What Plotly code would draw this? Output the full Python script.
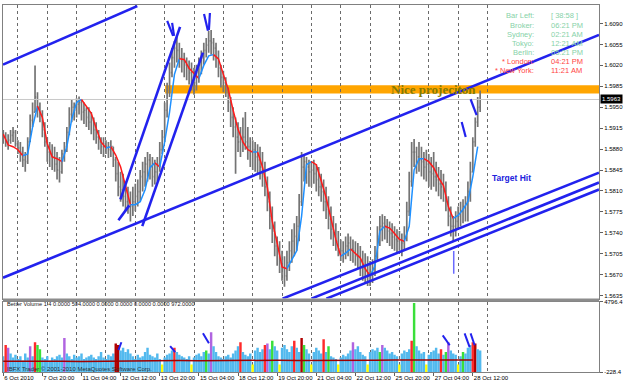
import plotly.graph_objects as go

# ---------------- data ----------------
PRICE_BASE = 1.5600
PIP = 0.0001
FIRST_BAR = -12          # hourly index of first bar; 7 Oct 00:00 = 0
BAR_HOURS = 2
FIRST_OPEN_PIPS = 305

HIGH_PIPS = [
    312, 308, 305, 312, 317, 312, 295, 292, 284, 275,
    300, 338, 358, 420, 375, 358, 345, 325, 300, 292,
    288, 284, 275, 267, 279, 292, 317, 350, 362, 358,
    365, 368, 362, 358, 350, 350, 342, 333, 325, 312,
    300, 300, 295, 292, 295, 284, 267, 259, 242, 239,
    226, 217, 209, 217, 222, 229, 245, 259, 267, 275,
    272, 267, 262, 267, 292, 312, 358, 391, 425, 449,
    461, 469, 458, 449, 441, 433, 428, 425, 416, 421,
    433, 445, 458, 466, 478, 479, 466, 458, 445, 421,
    411, 400, 383, 367, 350, 333, 325, 317, 333, 342,
    317, 300, 295, 292, 288, 284, 275, 259, 234, 209,
    184, 159, 134, 126, 110, 101, 110, 126, 146, 156,
    168, 205, 275, 272, 267, 262, 259, 262, 255, 250,
    239, 229, 217, 201, 184, 168, 156, 143, 129, 126,
    134, 139, 134, 129, 126, 123, 118, 110, 106, 101,
    93, 96, 118, 151, 168, 171, 168, 163, 159, 156,
    151, 146, 143, 139, 151, 192, 242, 292, 297, 284,
    292, 284, 275, 279, 272, 267, 275, 259, 250, 245,
    239, 226, 201, 184, 168, 176, 184, 192, 196, 201,
    226, 259, 300, 333, 367, 378,
]
LOW_PIPS = [
    289, 284, 279, 289, 292, 284, 272, 259, 250, 242,
    255, 292, 317, 342, 333, 325, 300, 284, 259, 250,
    245, 242, 229, 224, 239, 259, 275, 303, 325, 328,
    333, 338, 328, 322, 317, 312, 305, 295, 289, 279,
    272, 267, 272, 265, 267, 250, 226, 201, 192, 184,
    176, 172, 159, 168, 176, 184, 192, 209, 217, 226,
    229, 217, 221, 226, 242, 272, 292, 333, 367, 400,
    416, 425, 416, 408, 400, 395, 388, 378, 371, 378,
    391, 405, 421, 433, 441, 438, 428, 416, 400, 383,
    375, 367, 342, 317, 300, 239, 275, 267, 275, 279,
    262, 250, 245, 242, 239, 229, 217, 201, 176, 146,
    123, 101, 85, 73, 60, 50, 60, 76, 90, 101,
    110, 126, 185, 226, 222, 217, 217, 222, 209, 201,
    192, 176, 163, 146, 129, 118, 110, 101, 93, 90,
    96, 101, 93, 90, 85, 80, 68, 60, 55, 51,
    51, 56, 68, 93, 118, 126, 129, 123, 118, 113,
    110, 106, 110, 101, 110, 126, 168, 217, 250, 239,
    242, 234, 229, 226, 217, 212, 217, 209, 201, 196,
    192, 176, 151, 134, 126, 134, 146, 151, 156, 159,
    159, 192, 242, 284, 317, 342,
]
CLOSE_PIPS = [
    300, 292, 295, 303, 308, 289, 282, 275, 262, 259,
    292, 328, 342, 367, 350, 338, 312, 292, 275, 272,
    267, 255, 245, 242, 272, 284, 308, 338, 350, 345,
    355, 358, 342, 345, 333, 325, 328, 312, 300, 292,
    284, 289, 284, 279, 284, 262, 239, 217, 212, 201,
    192, 184, 184, 192, 201, 209, 234, 242, 255, 262,
    250, 234, 242, 255, 279, 300, 345, 378, 408, 433,
    449, 445, 433, 428, 421, 416, 408, 400, 391, 408,
    421, 433, 445, 454, 461, 458, 449, 433, 416, 400,
    391, 378, 358, 333, 317, 300, 292, 292, 300, 292,
    284, 275, 279, 267, 262, 250, 234, 217, 192, 168,
    143, 118, 110, 90, 80, 68, 90, 110, 126, 134,
    151, 192, 250, 259, 250, 242, 245, 239, 229, 217,
    209, 192, 179, 163, 146, 134, 126, 113, 110, 106,
    118, 123, 113, 110, 101, 101, 90, 80, 76, 73,
    68, 80, 101, 134, 151, 156, 151, 143, 139, 133,
    129, 126, 129, 123, 134, 176, 226, 275, 275, 267,
    262, 259, 250, 255, 242, 239, 234, 229, 222, 217,
    209, 192, 168, 151, 151, 159, 168, 176, 184, 192,
    209, 242, 292, 325, 350, 363,
]

MA_HOURS = 4
MA_PIPS = [
    305, 287, 284, 279, 269, 272, 317, 352, 333, 289,
    267, 264, 259, 284, 330, 358, 363, 352, 340, 315,
    292, 282, 284, 270, 250, 216, 187, 187, 192, 212,
    249, 257, 250, 292, 342, 405, 431, 430, 415, 406,
    398, 420, 436, 438, 431, 405, 380, 345, 313, 292,
    279, 275, 275, 250, 216, 159, 123, 83, 80, 95,
    110, 168, 254, 259, 254, 227, 199, 164, 129, 101,
    106, 113, 106, 98, 80, 68, 85, 143, 151, 148,
    139, 129, 126, 151, 245, 264, 264, 259, 249, 232,
    219, 184, 164, 169, 179, 192, 234, 284,
]

VOLUME = [
    900, 1700, 1500, 1100, 800, 1000, 700, 900, 600, 1100, 800,
    1600, 900, 1900, 1700, 1400, 800, 700, 900, 600, 800,
    700, 900, 1000, 800, 2200, 1100, 900, 700, 1000, 800,
    900, 1100, 700, 800, 900, 1000, 800, 700, 900, 1200,
    800, 700, 1000, 900, 1100, 1800, 1700, 1300, 1500, 1200,
    1400, 1100, 900, 700, 1000, 800, 900, 1200, 1500, 1000,
    900, 800, 1100, 700, 300, 800, 1000, 1100, 1300, 1500,
    1200, 1000, 900, 800, 700, 900, 300, 800, 1000, 1100,
    900, 1200, 1300, 1100, 2600, 1600, 1200, 900, 800, 700,
    900, 1000, 800, 1100, 1300, 1600, 1900, 1200, 1000, 900,
    1100, 300, 1300, 1500, 1200, 1400, 1700, 1800, 1400, 2000,
    1600, 1300, 300, 1500, 1700, 1400, 1200, 1600, 2000, 1500,
    1200, 2200, 1700, 1400, 1100, 300, 1200, 1500, 1300, 1100,
    2100, 1200, 1600, 900, 800, 700, 300, 800, 1000, 900,
    1100, 1300, 1900, 1400, 1600, 1200, 1000, 900, 300, 1200,
    1400, 1300, 1500, 1200, 1700, 1500, 1300, 1100, 1200, 1000,
    900, 300, 1100, 1300, 1200, 1400, 2000, 4700, 1600, 1300,
    1100, 1200, 300, 1000, 1200, 1300, 1500, 1100, 1400, 1000,
    1200, 1900, 1300, 1100, 1000, 300, 900, 1200, 1100, 1500,
    1700, 1900, 1800, 1400, 1300,
]
VOLUME_BAR_KIND = {
    1: "red", 2: "purple", 11: "purple", 13: "red", 14: "green", 15: "green",
    25: "purple", 46: "darkred", 47: "darkred", 65: "yellow", 70: "red",
    77: "yellow", 83: "green", 85: "purple", 97: "red", 102: "yellow",
    107: "red", 108: "purple", 110: "green", 113: "yellow", 119: "red",
    122: "darkred", 123: "green", 126: "yellow", 131: "red", 133: "green",
    137: "yellow", 143: "purple", 149: "yellow", 154: "green", 155: "purple",
    162: "yellow", 167: "red", 168: "green", 173: "yellow", 179: "red",
    181: "green", 182: "purple", 186: "yellow", 188: "green", 192: "red",
    193: "darkred",
}
VOL_MA_HOURS = 16
VOLUME_MA = [540, 550, 560, 540, 520, 540, 560, 580, 600, 590, 580, 600, 620,
             640, 610, 600, 590, 580, 600, 610, 620, 610, 600, 620, 630]

X_TICK_HOURS = [-12, 20, 52, 84, 116, 148, 180, 212, 244, 276, 308, 340, 372]
X_TICK_TEXT = ["6 Oct 2010", "7 Oct 20:00", "11 Oct 04:00", "12 Oct 12:00",
               "13 Oct 20:00", "15 Oct 04:00", "18 Oct 12:00", "19 Oct 20:00",
               "21 Oct 04:00", "22 Oct 12:00", "25 Oct 20:00", "27 Oct 04:00",
               "28 Oct 12:00"]
DAY_STARTS = [0, 24, 48, 72, 96, 120, 144, 168, 192, 216, 240, 264, 288, 312,
              336, 360, 384]
PRICE_TICKS = [1.5635, 1.5670, 1.5705, 1.5740, 1.5775, 1.5810, 1.5845, 1.5880,
               1.5915, 1.5950, 1.5985, 1.6020, 1.6055, 1.6090]
X_RANGE = [-12.2, 475.2]
PRICE_RANGE = [1.5630, 1.6121]
VOL_RANGE = [-228.4, 4796.4]

# drawn trend lines: (hour0, price0, hour1, price1)
TRENDLINES = [
    (-12.2, 1.60214, 97.6, 1.61192),
    (83.8, 1.57959, 132.6, 1.60844),
    (101.7, 1.57511, 151.3, 1.60413),
    (82.2, 1.57610, 91.1, 1.57859),
    (-12.2, 1.56649, 475.2, 1.60711),
    (216.4, 1.56300, 475.2, 1.58406),
    (240.0, 1.56300, 475.2, 1.58241),
    (252.2, 1.56300, 475.2, 1.58124),
]
PEN_MARKS = [
    (122.1, 1.60944, 126.9, 1.60695),
    (126.1, 1.60910, 127.7, 1.60695),
    (152.2, 1.61060, 155.4, 1.60778),
    (157.0, 1.61076, 156.2, 1.60794),
    (362.9, 1.59252, 366.2, 1.59003),
    (370.2, 1.59634, 375.1, 1.59368),
]
THIN_MARK = (356.4, 1.57096, 356.4, 1.56715)
VOLUME_MARKS = [
    (82.2, 1329, 84.6, 1895),
    (124.5, 1612, 128.6, 1187),
    (151.3, 2532, 156.2, 1824),
    (347.4, 2390, 353.1, 1682),
    (365.3, 2532, 369.4, 1541),
    (370.2, 2532, 373.5, 1682),
]
BAND = (120.4, 1.5973, 1.5987)   # start hour, low, high
INFO_ROWS = [
    ("Bar Left:", "[ 38:58 ]", "info"),
    ("Broker:", "06:21 PM", "info"),
    ("Sydney:", "02:21 AM", "info"),
    ("Tokyo:", "12:21 AM", "info"),
    ("Berlin:", "05:21 PM", "info"),
    ("* London:", "04:21 PM", "alert"),
    ("* New York:", "11:21 AM", "alert"),
]

# ---------------- build ----------------
def px(p):
    return round(PRICE_BASE + p * PIP, 5)

n = len(CLOSE_PIPS)
xs = [FIRST_BAR + BAR_HOURS * k for k in range(n)]
closes = [px(p) for p in CLOSE_PIPS]
highs = [px(p) for p in HIGH_PIPS]
lows = [px(p) for p in LOW_PIPS]
opens = [px(FIRST_OPEN_PIPS)] + closes[:-1]

BLUE = "#2222EE"
FONT = "Liberation Sans"

fig = go.Figure()

fig.add_trace(go.Scatter(x=X_RANGE, y=[closes[-1]] * 2, mode="lines",
                         line=dict(color="#C8C8C8", width=1), xaxis="x", yaxis="y",
                         hoverinfo="skip"))

fig.add_trace(go.Ohlc(x=xs, open=opens, high=highs, low=lows, close=closes,
                      increasing=dict(line=dict(color="#747474", width=1.7)),
                      decreasing=dict(line=dict(color="#747474", width=1.7)),
                      tickwidth=0.4, xaxis="x", yaxis="y", hoverinfo="skip"))

# coloured moving average
ma_x = [FIRST_BAR + MA_HOURS * m for m in range(len(MA_PIPS))]
ma_y = [px(p) for p in MA_PIPS]
runs = []
for j in range(len(ma_y) - 1):
    col = "#1E90FF" if ma_y[j + 1] >= ma_y[j] else "#FF1A1A"
    if runs and runs[-1][0] == col:
        runs[-1][1].append(j + 1)
    else:
        runs.append([col, [j, j + 1]])
for col, idx in runs:
    fig.add_trace(go.Scatter(x=[ma_x[j] for j in idx], y=[ma_y[j] for j in idx],
                             mode="lines", line=dict(color=col, width=1.5),
                             xaxis="x", yaxis="y", hoverinfo="skip"))

for (x0, y0, x1, y1) in TRENDLINES:
    fig.add_trace(go.Scatter(x=[x0, x1], y=[y0, y1], mode="lines",
                             line=dict(color=BLUE, width=2.6), xaxis="x", yaxis="y",
                             hoverinfo="skip"))
for (x0, y0, x1, y1) in PEN_MARKS:
    fig.add_trace(go.Scatter(x=[x0, x1], y=[y0, y1], mode="lines",
                             line=dict(color=BLUE, width=2.2), xaxis="x", yaxis="y",
                             hoverinfo="skip"))
fig.add_trace(go.Scatter(x=[THIN_MARK[0], THIN_MARK[2]], y=[THIN_MARK[1], THIN_MARK[3]],
                         mode="lines", line=dict(color="#6A6AFF", width=1.5),
                         xaxis="x", yaxis="y", hoverinfo="skip"))

# volume panel
KIND_COLOR = {"blue": "#52B9EE", "red": "#FF2A2A", "darkred": "#B00000",
              "green": "#3ADF3A", "purple": "#B064E0", "yellow": "#FFFF00"}
vcolors = [KIND_COLOR[VOLUME_BAR_KIND.get(k, "blue")] for k in range(n)]
fig.add_trace(go.Bar(x=xs, y=[v - VOL_RANGE[0] for v in VOLUME], base=VOL_RANGE[0],
                     marker=dict(color=vcolors, line=dict(width=0)), width=2.0,
                     xaxis="x2", yaxis="y2", hoverinfo="skip"))
vma_x = [FIRST_BAR + VOL_MA_HOURS * j for j in range(len(VOLUME_MA))]
fig.add_trace(go.Scatter(x=vma_x, y=VOLUME_MA, mode="lines",
                         line=dict(color="#A00000", width=1.5), xaxis="x2", yaxis="y2",
                         hoverinfo="skip"))
for (x0, y0, x1, y1) in VOLUME_MARKS:
    fig.add_trace(go.Scatter(x=[x0, x1], y=[y0, y1], mode="lines",
                             line=dict(color=BLUE, width=2), xaxis="x2", yaxis="y2",
                             hoverinfo="skip"))

shapes = [
    dict(type="rect", xref="x", yref="y", x0=BAND[0], x1=X_RANGE[1], y0=BAND[1], y1=BAND[2],
         fillcolor="#FFA500", line=dict(width=0), layer="below"),
    dict(type="rect", xref="paper", yref="paper", x0=0, x1=1, y0=0.1919, y1=0.2,
         fillcolor="#8C8C8C", line=dict(width=0)),
]

annotations = [
    dict(x=340, y=1.5980, xref="x", yref="y", text="<b>Nice projeciton</b>",
         showarrow=False, font=dict(family="Liberation Serif", size=13, color="#857A00")),
    dict(x=403.6, y=1.58323, xref="x", yref="y", text="<b>Target Hit</b>",
         showarrow=False, font=dict(family=FONT, size=8.5, color="#2222DD")),
    dict(x=1, y=closes[-1], xref="paper", yref="y", xanchor="left", xshift=1,
         text=f"{closes[-1]:.4f}", showarrow=False, bgcolor="#000000",
         font=dict(family=FONT, size=6, color="white"), borderpad=1),
    dict(x=0.003, y=0.185, xref="paper", yref="paper", xanchor="left", yanchor="middle",
         text="Better Volume 1.4 0.0000 504.0000 0.0000 0.0000 0.0000 0.0000 972.0000",
         showarrow=False, font=dict(family=FONT, size=5.6, color="#202020")),
    dict(x=0.003, y=0.008, xref="paper", yref="paper", xanchor="left", yanchor="middle",
         text="IBFX Trader © 2001-2010 MetaQuotes Software Corp.",
         showarrow=False, font=dict(family=FONT, size=6, color="#303030")),
]
INFO_COL = {"info": "#86D2A8", "alert": "#FF4444"}
for r, (lab, val, kind) in enumerate(INFO_ROWS):
    ypx = 13 + 9.2 * r
    yp = (372 - ypx) / 370
    annotations.append(dict(x=(538 - 2) / 599, y=yp, xref="paper", yref="paper",
                            xanchor="right", yanchor="middle", text=lab, showarrow=False,
                            font=dict(family=FONT, size=7.5, color=INFO_COL[kind])))
    annotations.append(dict(x=(551 - 2) / 599, y=yp, xref="paper", yref="paper",
                            xanchor="left", yanchor="middle", text=val, showarrow=False,
                            font=dict(family=FONT, size=7.5, color=INFO_COL[kind])))

grid_minor = dict(tickmode="array", tickvals=DAY_STARTS, showgrid=True,
                  griddash="dot", gridcolor="#6A6A6A", gridwidth=1, ticks="")

fig.update_layout(
    width=625, height=387, margin=dict(l=2, r=24, t=2, b=15),
    paper_bgcolor="white", plot_bgcolor="white", showlegend=False,
    hovermode=False, shapes=shapes, annotations=annotations,
    font=dict(family=FONT, size=6, color="black"),
    xaxis=dict(domain=[0, 1], anchor="y", range=X_RANGE, showticklabels=False,
               showgrid=False, zeroline=False, tickvals=X_TICK_HOURS, ticks="",
               minor=grid_minor, rangeslider=dict(visible=False),
               showline=True, linecolor="#808080", mirror=True),
    yaxis=dict(domain=[0.2, 1], anchor="x", side="right", range=PRICE_RANGE,
               tickvals=PRICE_TICKS, tickformat=".4f", ticks="outside", ticklen=3,
               tickcolor="#606060", showgrid=False, zeroline=False,
               showline=True, linecolor="#808080", mirror=True,
               tickfont=dict(family=FONT, size=6, color="black")),
    xaxis2=dict(domain=[0, 1], anchor="y2", range=X_RANGE, tickvals=X_TICK_HOURS,
                ticktext=X_TICK_TEXT, ticklabelposition="outside right", tickangle=0,
                ticks="outside", ticklen=3, tickcolor="#606060", showgrid=False,
                zeroline=False, minor=grid_minor, showline=True,
                linecolor="#808080", mirror=True,
                tickfont=dict(family=FONT, size=6, color="black")),
    yaxis2=dict(domain=[0, 0.1919], anchor="x2", side="right", range=VOL_RANGE,
                tickvals=[VOL_RANGE[1], VOL_RANGE[0]],
                ticktext=[f"{VOL_RANGE[1]:.1f}", f"{VOL_RANGE[0]:.1f}"],
                ticks="outside", ticklen=3, tickcolor="#606060", showgrid=False,
                zeroline=False, showline=True, linecolor="#808080", mirror=True,
                tickfont=dict(family=FONT, size=6, color="black")),
)

fig.write_html("out.html")
